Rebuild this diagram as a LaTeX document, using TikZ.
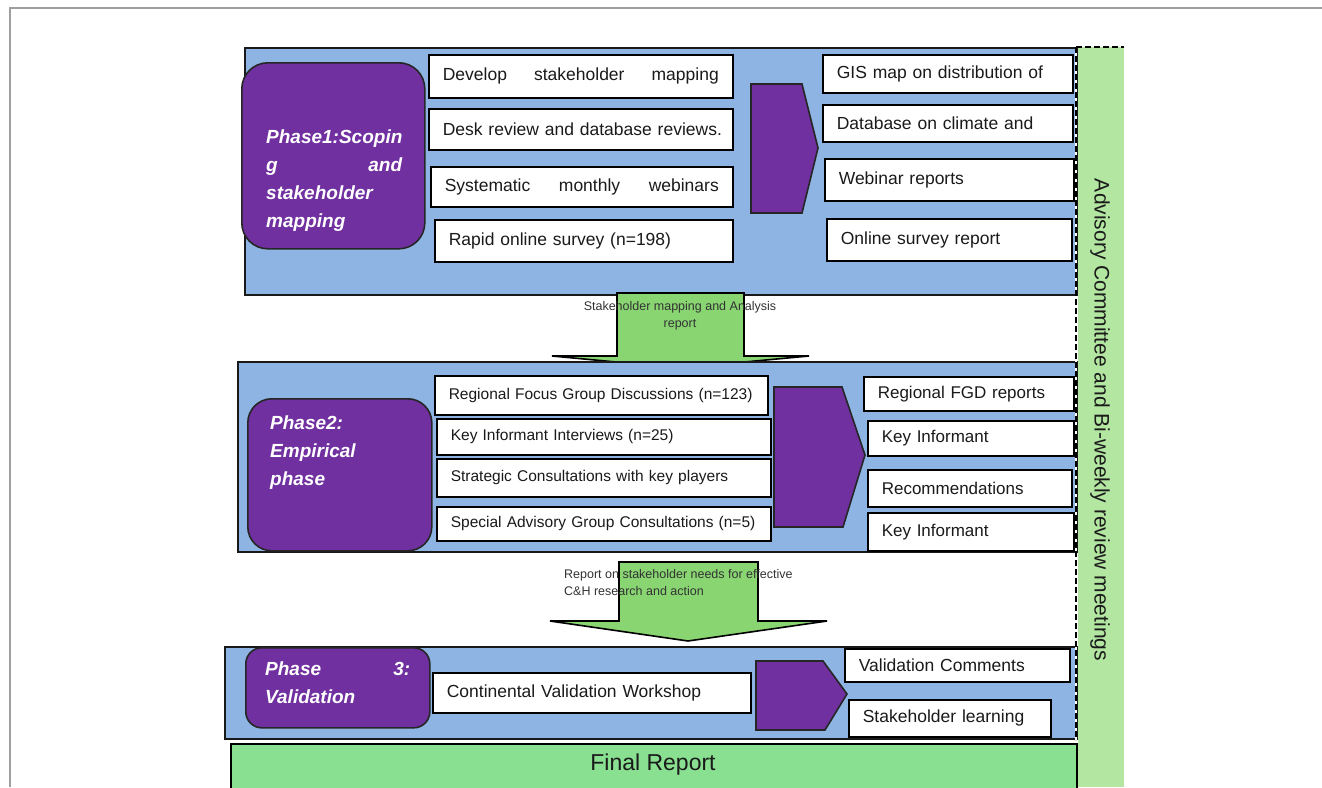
\documentclass[tikz,border=0pt]{standalone}
\usepackage{fontspec}
\setmainfont{Liberation Sans}
\definecolor{pblue}{HTML}{8DB4E2}
\definecolor{ppurple}{HTML}{7030A0}
\definecolor{agreen}{HTML}{88D571}
\definecolor{fgreen}{HTML}{88E090}
\definecolor{sgreen}{HTML}{B3E6A1}
\definecolor{txt}{HTML}{1A1A1A}
\newcommand\fsz[2]{\fontsize{#1}{#2}\selectfont}
\newcommand\jline[1]{\leavevmode\hbox to\hsize{#1}}
\newcommand\wb[7]{\pgfmathsetmacro\wbtw{#4-28}%
  \node[wbox,font=\fsz{#7}{#7},text width=\wbtw pt,minimum height=#5pt,anchor=north west] (#1) at (#2,#3) {\leavevmode\hbox{#6}};}
\begin{document}
\begin{tikzpicture}[x=1pt,y=-1pt,
  phase/.style={draw=black!90,line width=1.8pt,fill=pblue,inner sep=0pt,anchor=north west},
  wbox/.style={draw=black,line width=1.6pt,fill=white,inner xsep=14pt,inner ysep=0pt,align=left,text=txt},
  purp/.style={draw=black!85,line width=1.6pt,fill=ppurple,inner sep=0pt,anchor=north west},
  ptext/.style={text=white,inner sep=0pt,anchor=north west,align=left,font=\fsz{19}{28}\bfseries\itshape},
  chev/.style={draw=black!85,fill=ppurple,line width=1.6pt,line join=miter},
  barrow/.style={draw=black,fill=agreen,line width=1.6pt},
  lbl/.style={text=black!80,inner sep=0pt,font=\fsz{12.5}{17.5}},
  dashline/.style={line width=2pt,dash pattern=on 6pt off 3pt}]
\clip (0,0) rectangle (1322,787);
\fill[white] (0,0) rectangle (1322,787);
% outer frame
\draw[gray!75,line width=1.5pt] (10,787) -- (10,8) -- (1322,8);
% sidebar
\node[fill=sgreen,minimum width=46pt,minimum height=740pt,inner sep=0pt,anchor=north west] (side) at (1078,47) {};

% ---------- Phase 1 ----------
\node[phase,minimum width=832pt,minimum height=247pt] (ph1) at (244,47) {};
\node[purp,rounded corners=26pt,minimum width=183pt,minimum height=186pt] (pp1) at (241,62) {};
\node[ptext,text width=136pt] (pt1) at (266,130) {Phase1:Scopin\\\jline{g\hfill and}\\stakeholder\\mapping};
\wb{i11}{428}{54}{304}{43}{\hbox to\hsize{Develop\hfill stakeholder\hfill mapping}}{17.5}
\wb{i12}{428}{108}{304}{41}{Desk review and database reviews.}{17.5}
\wb{i13}{430}{166}{302}{40}{\hbox to\hsize{Systematic\hfill monthly\hfill webinars}}{17.5}
\wb{i14}{434}{219}{298}{42}{Rapid online survey (n=198)}{17.5}
\draw[chev] (751,84) -- (802,84) -- (818,148) -- (802,213) -- (751,213) -- cycle;
\wb{o11}{822}{54}{250}{38}{GIS map on distribution of}{17.5}
\wb{o12}{822}{104}{250}{37}{Database on climate and}{17.5}
\wb{o13}{824}{158}{249}{42}{Webinar reports}{17.5}
\wb{o14}{826}{218}{245}{42}{Online survey report}{17.5}

% arrow 1
\draw[barrow] (617,293) -- (744,293) -- (744,356) -- (809,356) -- (680,368) -- (552,356) -- (617,356) -- cycle;
\node[lbl,align=center] (l1) at (680,316) {Stakeholder mapping and Analysis\\report};

% ---------- Phase 2 ----------
\node[phase,minimum width=839pt,minimum height=190pt] (ph2) at (237,361) {};
\node[purp,rounded corners=24pt,minimum width=184pt,minimum height=152pt] (pp2) at (247,398) {};
\node[ptext,text width=140pt] (pt2) at (270,416) {Phase2:\\Empirical\\phase};
\wb{i21}{434}{375}{333}{39}{Regional Focus Group Discussions (n=123)}{15.5}
\wb{i22}{436}{418}{334}{36}{Key Informant Interviews (n=25)}{15.5}
\wb{i23}{436}{458}{334}{38}{Strategic Consultations with key players}{15.5}
\wb{i24}{436}{506}{334}{34}{Special Advisory Group Consultations (n=5)}{15.5}
\draw[chev] (774,387) -- (842,387) -- (865,455) -- (843,527) -- (774,527) -- cycle;
\wb{o21}{863}{376}{210}{34}{Regional FGD reports}{17}
\wb{o22}{867}{420}{206}{35}{Key Informant}{17}
\wb{o23}{867}{469}{204}{37}{Recommendations}{17}
\wb{o24}{867}{512}{206}{38}{Key Informant}{17}

% arrow 2
\draw[barrow] (619,562) -- (758,562) -- (758,621) -- (827,621) -- (688,641) -- (550,621) -- (619,621) -- cycle;
\node[lbl,align=left,anchor=north west] (l2) at (564,569) {Report on stakeholder needs for effective\\C\&H research and action};

% ---------- Phase 3 ----------
\node[phase,minimum width=852pt,minimum height=92pt] (ph3) at (224,646) {};
\node[purp,rounded corners=16pt,minimum width=184pt,minimum height=80pt] (pp3) at (245,647) {};
\node[ptext,text width=145pt] (pt3) at (265,662) {\jline{Phase\hfill 3:}\\Validation};
\wb{i31}{432}{672}{318}{40}{Continental Validation Workshop}{17.5}
\draw[chev] (756,661) -- (823,661) -- (847,694) -- (825,730) -- (756,730) -- cycle;
\wb{o31}{844}{648}{225}{33}{Validation Comments}{17.5}
\wb{o32}{848}{699}{202}{37}{Stakeholder learning}{17.5}

% ---------- Final report ----------
\node[draw=black,line width=1.6pt,fill=fgreen,minimum width=846pt,minimum height=70pt,inner sep=0pt,anchor=north west] (fr) at (230,743) {};
\node[font=\fsz{23}{23},text=txt,inner sep=0pt] (frt) at (653,765) {Final Report};

% dashed border of advisory column
\draw[white,line width=2.4pt] (1076,47) -- (1076,740);
\draw[dashline] (1076,47) -- (1076,740);
\draw[dashline] (1076,47) -- (1124,47);
\node[rotate=-90,font=\fsz{21}{21},text=txt,inner sep=0pt] (sidet) at (1100,420) {Advisory Committee and Bi-weekly review meetings};
\end{tikzpicture}
\end{document}
